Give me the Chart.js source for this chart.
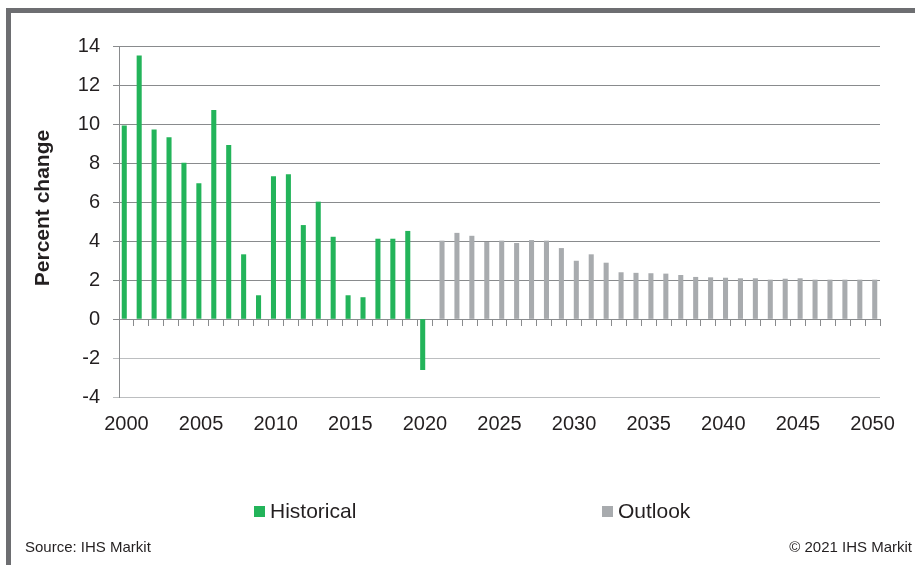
<!DOCTYPE html>
<html>
<head>
<meta charset="utf-8">
<script src="https://cdn.jsdelivr.net/npm/chart.js@4/dist/chart.umd.min.js"></script>
<style>
  html, body { margin: 0; padding: 0; background: #fff; overflow: hidden; }
  body { width: 915px; height: 565px; position: relative; font-family: "Liberation Sans", Arial, sans-serif; color: #231f20; }
  #chart { position: absolute; left: 0; top: 0; }
  .frame { position: absolute; left: 6px; top: 8px; width: 915px; height: 565px; border-top: 5px solid #6d6e71; border-left: 5px solid #6d6e71; pointer-events: none; }
  .ytitle { position: absolute; left: 42px; top: 208px; font-size: 21px; line-height: 24px; font-weight: bold; white-space: nowrap; transform: translate(-50%, -50%) rotate(-90deg); }
  .leg { position: absolute; top: 500px; font-size: 21px; line-height: 21px; white-space: nowrap; }
  .leg i { position: absolute; left: 0; top: 6px; width: 11px; height: 11px; }
  .leg span { position: absolute; left: 16px; top: 0; }
  .note { position: absolute; top: 539px; font-size: 15px; line-height: 15px; white-space: nowrap; }
</style>
</head>
<body>
<canvas id="chart" width="915" height="565"></canvas>
<div class="frame"></div>
<div class="ytitle">Percent change</div>
<div class="leg" style="left:254px"><i style="background:#23b45a"></i><span>Historical</span></div>
<div class="leg" style="left:602px"><i style="background:#a8abae"></i><span>Outlook</span></div>
<div class="note" style="left:25px">Source: IHS Markit</div>
<div class="note" style="right:3px">© 2021 IHS Markit</div>
<script>
// Years 2000-2050
const years = [];
for (let y = 2000; y <= 2050; y++) years.push(String(y));

// Historical 2000-2020
const historical = [9.9, 13.5, 9.7, 9.3, 8.0, 6.95, 10.7, 8.9, 3.3, 1.2,
  7.3, 7.4, 4.8, 6.0, 4.2, 1.2, 1.1, 4.1, 4.1, 4.5, -2.6];

// Outlook 2021-2050
const outlook = [4.0, 4.4, 4.25, 3.93, 4.0, 3.88, 4.03, 4.0, 3.62, 2.97,
  3.3, 2.87, 2.38, 2.35, 2.33, 2.31, 2.24, 2.14, 2.12, 2.1,
  2.07, 2.07, 2.0, 2.05, 2.07, 2.0, 2.0, 2.0, 2.0, 2.0];

const yTicks = [-4, -2, 0, 2, 4, 6, 8, 10, 12, 14];

const histData = years.map((y, i) => i < historical.length ? historical[i] : null);
const outData = years.map((y, i) => i >= historical.length ? outlook[i - historical.length] : null);

const textColor = '#231f20';
const gridDark = '#898b8d';
const gridLight = '#bcbec0';

const ctx = document.getElementById('chart').getContext('2d');
new Chart(ctx, {
  type: 'bar',
  data: {
    labels: years,
    datasets: [{
      label: 'Historical',
      data: histData,
      backgroundColor: '#23b45a',
      barThickness: 4.4
    }, {
      label: 'Outlook',
      data: outData,
      backgroundColor: '#a8abae',
      barThickness: 4.4
    }]
  },
  options: {
    responsive: false,
    animation: false,
    devicePixelRatio: 1,
    layout: { padding: { left: 0, right: 35, top: 46, bottom: 128 } },
    plugins: { legend: { display: false }, tooltip: { enabled: false } },
    scales: {
      x: {
        type: 'category',
        offset: true,
        grid: { display: false, drawTicks: false },
        border: { display: false },
        ticks: {
          color: textColor,
          font: { family: 'Liberation Sans', size: 20 },
          padding: 15,
          autoSkip: false,
          maxRotation: 0,
          callback: function (v, i) { return i % 5 === 0 ? years[i] : ''; }
        },
        afterFit: s => { s.height = 40; }
      },
      x0: {
        type: 'category',
        position: { y: 0 },
        offset: true,
        grid: { offset: true, drawOnChartArea: false, drawTicks: true, tickLength: 6, color: gridDark },
        border: { display: true, color: gridDark },
        ticks: { display: false }
      },
      y: {
        min: -4,
        max: 14,
        afterBuildTicks: s => { s.ticks = yTicks.map(v => ({ value: v })); },
        grid: {
          color: c => (c.tick && c.tick.value < 0) ? gridLight : gridDark,
          tickLength: 6
        },
        border: { display: true, color: gridDark },
        ticks: {
          color: textColor,
          font: { family: 'Liberation Sans', size: 20 },
          padding: 13
        },
        afterFit: s => { s.width = 119; }
      }
    }
  }
});
</script>
</body>
</html>
